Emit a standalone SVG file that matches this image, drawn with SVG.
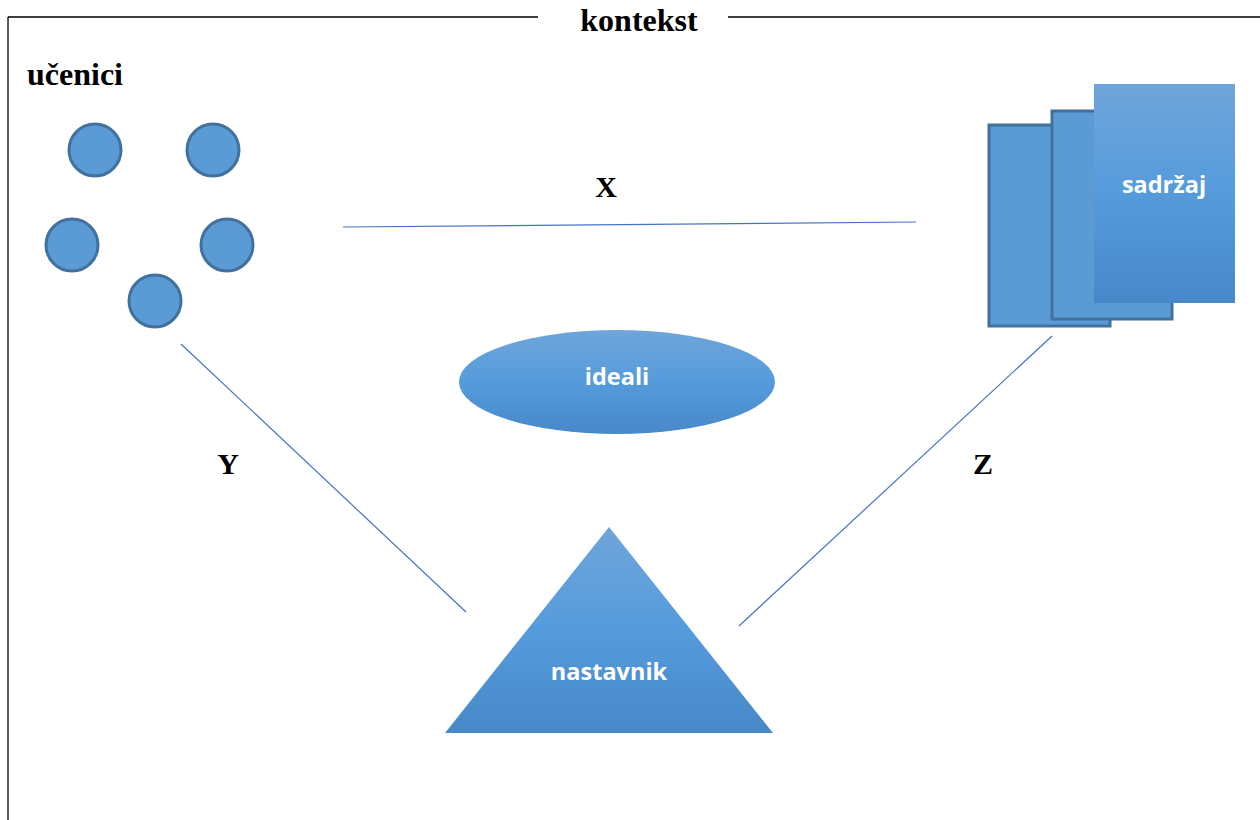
<svg xmlns="http://www.w3.org/2000/svg" width="1260" height="820" viewBox="0 0 1260 820">
<style>
.frame{stroke:#000;stroke-width:1.3;fill:none}
.lbl{font-family:"Liberation Serif",serif;font-weight:bold;font-size:30px;fill:#000}
.big{font-size:32px}
.wt{font-family:"Open Sans","Noto Sans",sans-serif;font-weight:bold;font-size:23.5px;fill:#fff;text-anchor:middle}
.stu{fill:#5B9BD5;stroke:#41719C;stroke-width:3}
.page{fill:#5B9BD5;stroke:#41719C;stroke-width:3}
.conn{stroke:#4472C4;stroke-width:1.2;fill:none}
</style>
<defs>
<linearGradient id="g" x1="0" y1="0" x2="0" y2="1">
<stop offset="0" stop-color="#6FA5DA"/>
<stop offset="0.5" stop-color="#559BDC"/>
<stop offset="1" stop-color="#4788C8"/>
</linearGradient>
</defs>
<g id="frame">
<path class="frame" d="M8 17 H538 M728 17 H1260 M8 17 V820"/>
<text class="lbl big" x="639" y="31" text-anchor="middle">kontekst</text>
</g>
<g id="ucenici">
<text class="lbl big" x="27" y="85">učenici</text>
<circle class="stu" cx="95" cy="150" r="26"/>
<circle class="stu" cx="213" cy="150" r="26"/>
<circle class="stu" cx="72" cy="245" r="26"/>
<circle class="stu" cx="227" cy="245" r="26"/>
<circle class="stu" cx="155" cy="301" r="26"/>
</g>
<g id="sadrzaj">
<rect class="page" x="989" y="125" width="121" height="201"/>
<rect class="page" x="1052" y="111" width="120" height="208"/>
<rect x="1094" y="84" width="141" height="219" fill="url(#g)"/>
<text class="wt" x="1164" y="193">sadržaj</text>
</g>
<g id="ideali">
<ellipse cx="617" cy="382" rx="158" ry="52" fill="url(#g)"/>
<text class="wt" x="617" y="385">ideali</text>
</g>
<g id="nastavnik">
<polygon points="609,527 445,733 773,733" fill="url(#g)"/>
<text class="wt" x="609" y="680">nastavnik</text>
</g>
<g id="connectors">
<line class="conn" x1="343" y1="227" x2="916" y2="222"/>
<line class="conn" x1="181" y1="344" x2="466" y2="612"/>
<line class="conn" x1="1052" y1="336" x2="739" y2="626"/>
<text class="lbl" x="606" y="197" text-anchor="middle">X</text>
<text class="lbl" x="228" y="474" text-anchor="middle">Y</text>
<text class="lbl" x="983" y="474" text-anchor="middle">Z</text>
</g>
</svg>
